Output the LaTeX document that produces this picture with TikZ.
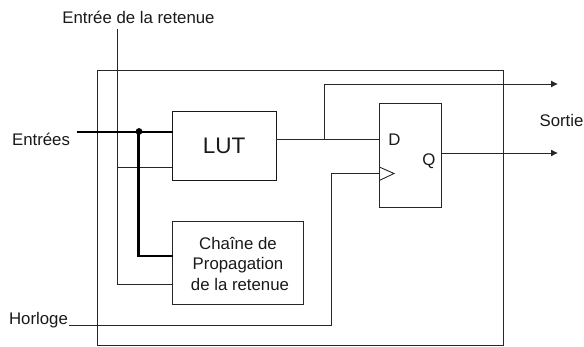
\documentclass[tikz,border=0pt]{standalone}
\usepackage{fontspec}
\setmainfont{Liberation Sans}
\usetikzlibrary{arrows.meta}
\tikzset{
  wire/.style={line width=0.9pt,black!85},
  bus/.style={line width=2.2pt,black},
  block/.style={draw=black!85,line width=0.9pt,fill=none,inner sep=0pt,outer sep=0pt},
  lbl/.style={inner sep=0pt,font=\fontsize{16.8}{20}\selectfont,black!90},
  outwire/.style={wire,-{Latex[length=7pt,width=7pt]}}
}
\begin{document}
\begin{tikzpicture}[x=1pt,y=-1pt]
\useasboundingbox (0,0) rectangle (584,347);
\node[block,minimum width=406pt,minimum height=275pt] (outer) at (300,207.5) {};
\node[block,minimum width=103.5pt,minimum height=68.5pt,font=\fontsize{22.5}{26}\selectfont,black!90] (lut) at (224.2,145.8) {LUT};
\node[block,minimum width=131pt,minimum height=82.5pt] (chain) at (238,263.2) {};
\node[lbl,align=center,font=\fontsize{16.8}{20.5}\selectfont] (chaintext) at (238,263.5) {Chaîne de\hspace{4pt}\\Propagation\\\hspace{4pt}de la retenue};
\node[block,minimum width=62.2pt,minimum height=103.7pt] (ff) at (410.4,155.8) {};
\node[lbl] (d) at (394.5,140) {D};
\node[lbl] (q) at (429,161) {Q};
\node[lbl] (in) at (41,139.5) {Entrées};
\node[lbl] (carry) at (138.5,17.5) {Entrée de la retenue};
\node[lbl] (sortie) at (561.5,120) {Sortie};
\node[lbl] (clk) at (38.5,320.5) {Horloge};
\coordinate (inS) at (76.5,132);
\coordinate (lutIn) at (172.5,132);
\coordinate (dot) at (139,131.5);
\coordinate (carryS) at (117.5,29);
\coordinate (o1) at (558,84);
\coordinate (o2) at (558,153);
\draw[wire] (carryS) |- (chain.west |- 0,284);
\draw[wire] (117.5,167) -- (lut.west |- 0,167);
\draw[bus] (inS) -- (lutIn);
\draw[bus] (138.5,131.5) |- (172.5,256);
\fill (dot) circle (3.4pt);
\draw[wire] (lut.east |- 0,139) -- (ff.west |- 0,139);
\draw[outwire] (324,139) |- (o1);
\draw[outwire] (ff.east |- o2) -- (o2);
\draw[wire] (68.5,325) -| (331,173.5) -- (ff.west |- 0,173.5);
\draw[wire] (379.3,167) -- (394,173.5) -- (379.3,180.5);
\end{tikzpicture}
\end{document}
